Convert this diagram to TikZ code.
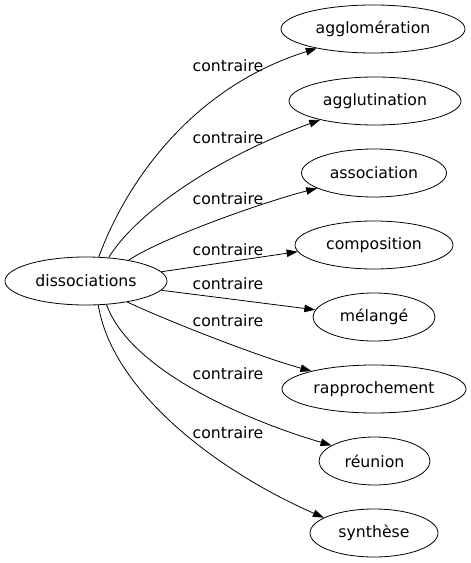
\documentclass[tikz,border=0pt]{standalone}
\usepackage{fontspec}
\setmainfont{DejaVu Sans}
\usetikzlibrary{shapes.geometric,arrows.meta}
\tikzset{
  ell/.style={draw, ellipse, inner sep=0pt, line width=0.8bp, minimum height=48bp, font=\fontsize{15.7bp}{18bp}\selectfont},
  edge/.style={line width=0.8bp, -{Triangle[length=11bp,width=7.5bp]}},
  lbl/.style={anchor=base, inner sep=0pt, font=\fontsize{15.7bp}{18bp}\selectfont}
}
\begin{document}
\begin{tikzpicture}[x=1bp,y=-1bp]
\useasboundingbox (0,0) rectangle (471,563);
\node[ell, minimum width=162bp] (src) at (86,281) {dissociations};
\node[ell, minimum width=184bp] (t1) at (373,29) {agglomération};
\node[ell, minimum width=172bp] (t2) at (375,101) {agglutination};
\node[ell, minimum width=145bp] (t3) at (374,173) {association};
\node[ell, minimum width=158bp] (t4) at (374,245) {composition};
\node[ell, minimum width=122bp] (t5) at (374,317) {mélangé};
\node[ell, minimum width=184bp] (t6) at (374,389) {rapprochement};
\node[ell, minimum width=111bp] (t7) at (374.5,461) {réunion};
\node[ell, minimum width=128bp] (t8) at (374,533) {synthèse};

\draw[edge] (src.62) .. controls (125,185) and (190,88) .. (t1.199);
\draw[edge] (src.46) .. controls (135,215) and (210,160) .. (t2.199);
\draw[edge] (src.26) .. controls (160,239) and (260,203) .. (t3.195);
\draw[edge] (src.7) -- (t4.185);
\draw[edge] (src.-7) -- (t5.173);
\draw[edge] (src.-27) .. controls (170,322) and (260,357) .. (t6.164);
\draw[edge] (src.-49) .. controls (130,370) and (245,420) .. (t7.160);
\draw[edge] (src.-63) .. controls (112,390) and (215,470) .. (t8.163);

\node[lbl] (l1) at (228,71.5) {contraire};
\node[lbl] (l2) at (228,143.8) {contraire};
\node[lbl] (l3) at (228,204.8) {contraire};
\node[lbl] (l4) at (228,255.7) {contraire};
\node[lbl] (l5) at (228,289) {contraire};
\node[lbl] (l6) at (228,326.5) {contraire};
\node[lbl] (l7) at (228,379) {contraire};
\node[lbl] (l8) at (228,438) {contraire};
\end{tikzpicture}
\end{document}
